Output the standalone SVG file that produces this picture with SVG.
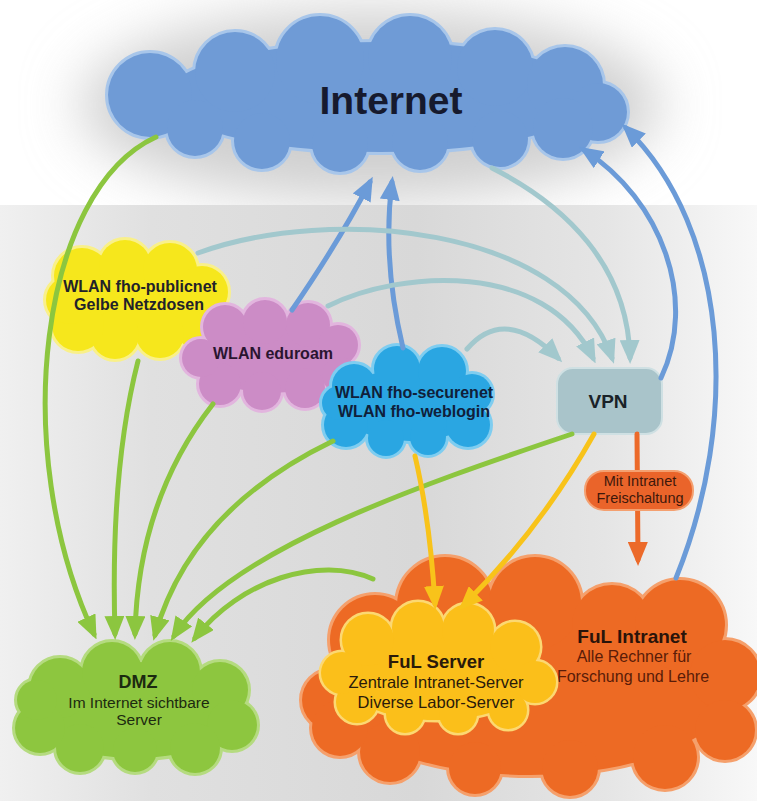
<svg xmlns="http://www.w3.org/2000/svg" xmlns:xlink="http://www.w3.org/1999/xlink" width="757" height="801" viewBox="0 0 757 801">
<style>
.bold{font-family:"Liberation Sans",Arial,sans-serif;font-weight:bold;text-anchor:middle}
.reg{font-family:"Liberation Sans",Arial,sans-serif;text-anchor:middle}
.conn{fill:none;stroke-width:5;stroke-linecap:round}
.green{stroke:#8cc63f}
.blue{stroke:#6b9bd8}
.teal{stroke:#a2c8cd}
.yellow{stroke:#f8c31a}
.orange{stroke:#ec6a2a}
</style>
<defs>
<filter id="blur" x="-50%" y="-50%" width="200%" height="200%"><feGaussianBlur stdDeviation="28"/></filter>
<linearGradient id="bgLow" x1="0" y1="0" x2="1" y2="0">
<stop offset="0" stop-color="#f0f0f0"/>
<stop offset="0.2" stop-color="#e0e0e0"/>
<stop offset="0.55" stop-color="#d8d8d8"/>
<stop offset="0.8" stop-color="#e5e5e5"/>
<stop offset="1" stop-color="#f8f8f8"/>
</linearGradient>
<marker id="mGreen" viewBox="0 0 24 20" refX="18" refY="10" markerWidth="24" markerHeight="20" markerUnits="userSpaceOnUse" orient="auto"><path d="M0,0 L24,10 L0,20 z" fill="#8cc63f"/></marker>
<marker id="mBlue" viewBox="0 0 24 20" refX="18" refY="10" markerWidth="24" markerHeight="20" markerUnits="userSpaceOnUse" orient="auto"><path d="M0,0 L24,10 L0,20 z" fill="#6b9bd8"/></marker>
<marker id="mTeal" viewBox="0 0 24 20" refX="18" refY="10" markerWidth="24" markerHeight="20" markerUnits="userSpaceOnUse" orient="auto"><path d="M0,0 L24,10 L0,20 z" fill="#a2c8cd"/></marker>
<marker id="mYellow" viewBox="0 0 24 20" refX="18" refY="10" markerWidth="24" markerHeight="20" markerUnits="userSpaceOnUse" orient="auto"><path d="M0,0 L24,10 L0,20 z" fill="#f8c31a"/></marker>
<marker id="mOrange" viewBox="0 0 24 20" refX="18" refY="10" markerWidth="24" markerHeight="20" markerUnits="userSpaceOnUse" orient="auto"><path d="M0,0 L24,10 L0,20 z" fill="#ec6a2a"/></marker>

<g id="shape-internet">
<ellipse cx="380" cy="97" rx="215" ry="55"/>
<circle cx="150" cy="95" r="42"/><circle cx="235" cy="72" r="40"/><circle cx="320" cy="60" r="44"/>
<circle cx="410" cy="58" r="42"/><circle cx="495" cy="68" r="38"/><circle cx="565" cy="85" r="38"/>
<circle cx="598" cy="112" r="29"/><circle cx="195" cy="128" r="28"/><circle cx="262" cy="141" r="28"/>
<circle cx="340" cy="144" r="28"/><circle cx="420" cy="142" r="28"/><circle cx="500" cy="139" r="28"/>
<circle cx="563" cy="128" r="30"/>
</g>
<g id="shape-yellow">
<ellipse cx="138" cy="300" rx="82" ry="42"/>
<circle cx="82" cy="276" r="28"/><circle cx="125" cy="266" r="26"/><circle cx="170" cy="270" r="27"/>
<circle cx="202" cy="292" r="26"/><circle cx="198" cy="325" r="24"/><circle cx="160" cy="334" r="24"/>
<circle cx="115" cy="335" r="24"/><circle cx="78" cy="325" r="26"/><circle cx="70" cy="300" r="24"/>
</g>
<g id="shape-pink">
<ellipse cx="272" cy="357" rx="72" ry="36"/>
<circle cx="225" cy="327" r="22"/><circle cx="265" cy="322" r="22"/><circle cx="308" cy="325" r="22"/>
<circle cx="338" cy="345" r="20"/><circle cx="340" cy="375" r="18"/><circle cx="305" cy="388" r="20"/>
<circle cx="262" cy="391" r="19"/><circle cx="220" cy="384" r="21"/><circle cx="201" cy="358" r="19"/>
</g>
<g id="shape-blue">
<ellipse cx="410" cy="405" rx="72" ry="36"/>
<circle cx="354" cy="386" r="22"/><circle cx="397" cy="369" r="23"/><circle cx="442" cy="371" r="24"/>
<circle cx="472" cy="394" r="20"/><circle cx="468" cy="425" r="22"/><circle cx="428" cy="437" r="18"/>
<circle cx="386" cy="438" r="18"/><circle cx="346" cy="425" r="22"/><circle cx="339" cy="403" r="17"/>
</g>
<g id="shape-dmz">
<ellipse cx="135" cy="710" rx="110" ry="48"/>
<circle cx="60" cy="688" r="30"/><circle cx="112" cy="672" r="30"/><circle cx="170" cy="672" r="30"/>
<circle cx="220" cy="690" r="28"/><circle cx="232" cy="725" r="25"/><circle cx="195" cy="748" r="25"/>
<circle cx="135" cy="750" r="22"/><circle cx="80" cy="748" r="24"/><circle cx="40" cy="728" r="25"/>
<circle cx="37" cy="700" r="20"/>
</g>
<g id="shape-intranet">
<ellipse cx="530" cy="690" rx="200" ry="85"/>
<circle cx="375" cy="640" r="45"/><circle cx="332" cy="700" r="30"/><circle cx="445" cy="605" r="48"/>
<circle cx="535" cy="603" r="46"/><circle cx="612" cy="625" r="40"/><circle cx="680" cy="625" r="45"/>
<circle cx="725" cy="675" r="35"/><circle cx="725" cy="730" r="30"/><circle cx="665" cy="757" r="32"/>
<circle cx="570" cy="768" r="28"/><circle cx="475" cy="768" r="26"/><circle cx="390" cy="752" r="30"/>
<circle cx="340" cy="728" r="28"/>
</g>
<g id="shape-server">
<ellipse cx="437" cy="675" rx="97" ry="45"/>
<circle cx="368" cy="640" r="26"/><circle cx="418" cy="628" r="26"/><circle cx="468" cy="630" r="26"/>
<circle cx="515" cy="647" r="25"/><circle cx="535" cy="682" r="21"/><circle cx="508" cy="710" r="19"/>
<circle cx="458" cy="714" r="19"/><circle cx="405" cy="714" r="19"/><circle cx="357" cy="702" r="21"/>
<circle cx="342" cy="673" r="21"/>
</g>
</defs>

<g id="background">
<rect x="0" y="0" width="757" height="801" fill="#ffffff"/>
<ellipse cx="370" cy="105" rx="290" ry="95" fill="#cfcfcf" filter="url(#blur)"/>
<rect x="0" y="205" width="757" height="596" fill="url(#bgLow)"/>
</g>

<g id="node-internet">
<use xlink:href="#shape-internet" fill="#a8c6ea" stroke="#a8c6ea" stroke-width="6"/>
<use xlink:href="#shape-internet" fill="#6f9bd6"/>
<text class="bold" x="391" y="114" font-size="39" fill="#161a2e">Internet</text>
</g>

<g id="node-dmz">
<use xlink:href="#shape-dmz" fill="#b5db80" stroke="#b5db80" stroke-width="6"/>
<use xlink:href="#shape-dmz" fill="#8dc63f"/>
<text class="bold" x="138" y="688" font-size="18" fill="#1c2a10">DMZ</text>
<text class="reg" x="139" y="708" font-size="15.5" fill="#1c2a10">Im Internet sichtbare</text>
<text class="reg" x="139" y="725" font-size="15.5" fill="#1c2a10">Server</text>
</g>

<g id="node-intranet">
<use xlink:href="#shape-intranet" fill="#f5a06c" stroke="#f5a06c" stroke-width="6"/>
<use xlink:href="#shape-intranet" fill="#ed6a24"/>
<text class="bold" x="632" y="643" font-size="19" fill="#2a140a">FuL Intranet</text>
<text class="reg" x="634" y="662" font-size="16" fill="#5a1c08">Alle Rechner für</text>
<text class="reg" x="633" y="682" font-size="16" fill="#5a1c08">Forschung und Lehre</text>
</g>

<g id="node-server">
<use xlink:href="#shape-server" fill="#fcd872" stroke="#fcd872" stroke-width="5"/>
<use xlink:href="#shape-server" fill="#fbbf1a"/>
<text class="bold" x="436" y="668" font-size="18.5" fill="#2a1a0a">FuL Server</text>
<text class="reg" x="436" y="688" font-size="16.5" fill="#2a1a0a">Zentrale Intranet-Server</text>
<text class="reg" x="436" y="708" font-size="16.5" fill="#2a1a0a">Diverse Labor-Server</text>
</g>

<g id="node-publicnet">
<use xlink:href="#shape-yellow" fill="#f9f08a" stroke="#f9f08a" stroke-width="6"/>
<use xlink:href="#shape-yellow" fill="#f6e71c"/>
<text class="bold" x="140" y="292" font-size="16" fill="#22222a">WLAN fho-publicnet</text>
<text class="bold" x="139" y="310" font-size="16" fill="#22222a">Gelbe Netzdosen</text>
</g>

<g id="node-eduroam">
<use xlink:href="#shape-pink" fill="#e2b5de" stroke="#e2b5de" stroke-width="6"/>
<use xlink:href="#shape-pink" fill="#cc8cc6"/>
<text class="bold" x="273" y="359" font-size="16" fill="#2a1530">WLAN eduroam</text>
</g>

<g id="node-securenet">
<use xlink:href="#shape-blue" fill="#7fcdf0" stroke="#7fcdf0" stroke-width="6"/>
<use xlink:href="#shape-blue" fill="#2aa6e2"/>
<text class="bold" x="414" y="398" font-size="16" fill="#10203a">WLAN fho-securenet</text>
<text class="bold" x="414" y="417" font-size="16" fill="#10203a">WLAN fho-weblogin</text>
</g>

<g id="node-vpn">
<rect x="557" y="368" width="105" height="66" rx="16" fill="#a9c4ca" stroke="#cfe0e3" stroke-width="2"/>
<text class="bold" x="608" y="408" font-size="19" fill="#1a2228">VPN</text>
</g>

<g id="connectors">
<path class="conn green" marker-end="url(#mGreen)" d="M156,137 C40,190 8,450 94,634"/>
<path class="conn green" marker-end="url(#mGreen)" d="M138,361 Q110,470 115,634"/>
<path class="conn green" marker-end="url(#mGreen)" d="M213,404 Q138,500 135,634"/>
<path class="conn green" marker-end="url(#mGreen)" d="M333,441 Q190,510 155,635"/>
<path class="conn green" marker-end="url(#mGreen)" d="M572,434 C420,485 230,550 174,636"/>
<path class="conn green" marker-end="url(#mGreen)" d="M373,579 C320,555 240,580 195,638"/>

<path class="conn blue" marker-end="url(#mBlue)" d="M292,310 Q340,240 370,182"/>
<path class="conn blue" marker-end="url(#mBlue)" d="M403,348 Q382,260 392,182"/>
<path class="conn blue" marker-end="url(#mBlue)" d="M661,378 C698,300 662,200 584,150"/>
<path class="conn blue" marker-end="url(#mBlue)" d="M676,578 C740,420 730,230 626,128"/>

<path class="conn teal" marker-end="url(#mTeal)" d="M467,349 Q505,305 558,358"/>
<path class="conn teal" marker-end="url(#mTeal)" d="M328,306 C400,270 545,260 593,358"/>
<path class="conn teal" marker-end="url(#mTeal)" d="M198,253 C330,205 565,225 612,358"/>
<path class="conn teal" marker-end="url(#mTeal)" d="M492,168 C565,205 628,265 630,358"/>

<path class="conn yellow" marker-end="url(#mYellow)" d="M415,456 Q430,520 435,604"/>
<path class="conn yellow" marker-end="url(#mYellow)" d="M594,434 Q540,530 463,606"/>

<path class="conn orange" marker-end="url(#mOrange)" d="M637,434 L638,560"/>
<g id="label-freischaltung">
<rect x="585" y="471" width="108" height="39" rx="19" fill="#ea642a" stroke="#f4a070" stroke-width="2"/>
<text class="reg" x="640" y="486" font-size="14.5" fill="#3e180a">Mit Intranet</text>
<text class="reg" x="640" y="503" font-size="14.5" fill="#3e180a">Freischaltung</text>
</g>
</g>
</svg>
